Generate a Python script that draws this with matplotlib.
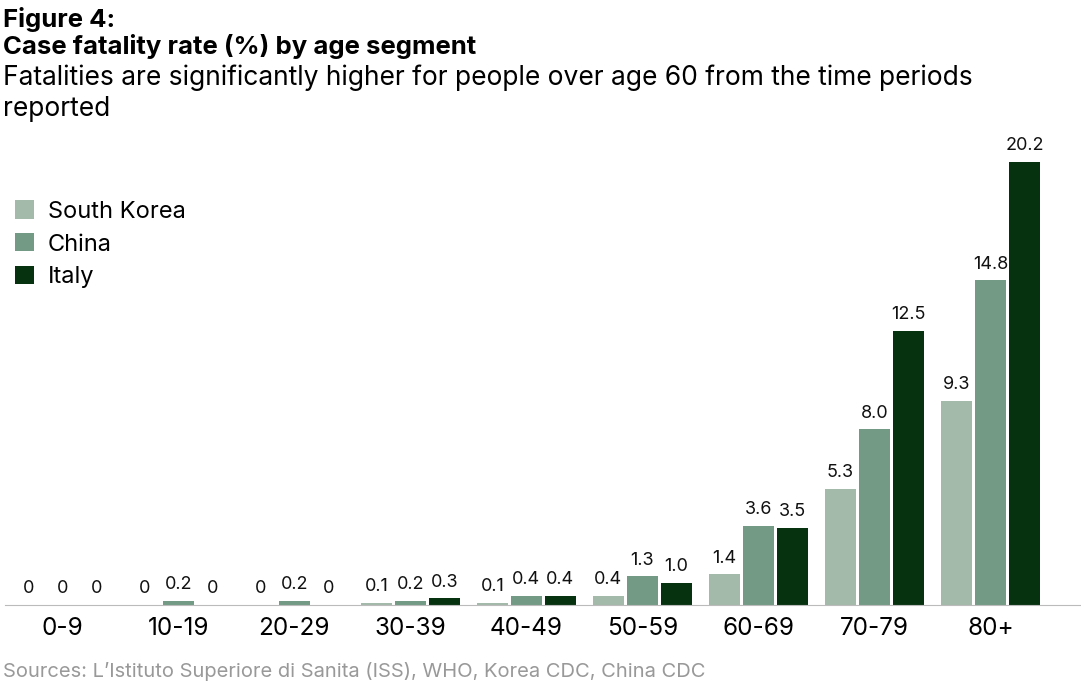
import matplotlib
matplotlib.use("Agg")
import matplotlib.pyplot as plt
import numpy as np

plt.rcParams['font.family'] = ['Inter', 'DejaVu Sans']

categories = ["0-9", "10-19", "20-29", "30-39", "40-49", "50-59", "60-69", "70-79", "80+"]
south_korea = [0, 0, 0, 0.1, 0.1, 0.4, 1.4, 5.3, 9.3]
china = [0, 0.2, 0.2, 0.2, 0.4, 1.3, 3.6, 8.0, 14.8]
italy = [0, 0, 0, 0.3, 0.4, 1.0, 3.5, 12.5, 20.2]
series = [("South Korea", south_korea, "#a3b9aa"),
          ("China", china, "#739a84"),
          ("Italy", italy, "#06320f")]

fig = plt.figure(figsize=(10.81, 6.89), dpi=100)
ax = fig.add_axes([0.005, 0.122, 0.995, 0.675])
x = np.arange(len(categories))
w = 0.27
off = 0.293
for i, (name, vals, col) in enumerate(series):
    xs = x + (i - 1) * off
    ax.bar(xs, vals, width=w, color=col, label=name)
    for xi, v in zip(xs, vals):
        lab = "0" if v == 0 else f"{v:.1f}"
        ax.text(xi, v + 0.35, lab, ha="center", va="bottom", fontsize=13, color="#111111")

ax.set_xlim(-0.49, 8.78)
ax.set_ylim(0, 21.2)
ax.set_xticks(x)
ax.set_xticklabels(categories, fontsize=17.5)
ax.tick_params(axis="x", length=0, pad=9)
ax.set_yticks([])
for s in ["top", "right", "left"]:
    ax.spines[s].set_visible(False)
ax.spines["bottom"].set_color("#bbbbbb")

ax.legend(loc="upper left", bbox_to_anchor=(0.0, 0.89), frameon=False, fontsize=17,
          handlelength=0.8, handleheight=0.8, handletextpad=0.6, labelspacing=0.45,
          borderaxespad=0)

fig.text(0.003, 0.972, "Figure 4:", fontsize=18.5, fontweight="bold", va="center")
fig.text(0.003, 0.933, "Case fatality rate (%) by age segment", fontsize=18.5, fontweight="bold", va="center")
fig.text(0.003, 0.887, "Fatalities are significantly higher for people over age 60 from the time periods", fontsize=19, va="center")
fig.text(0.003, 0.842, "reported", fontsize=19, va="center")
fig.text(0.003, 0.012, "Sources: L\u2019Istituto Superiore di Sanita (ISS), WHO, Korea CDC, China CDC",
         fontsize=14.5, color="#999999", va="bottom")

fig.savefig("out.png", dpi=100)
